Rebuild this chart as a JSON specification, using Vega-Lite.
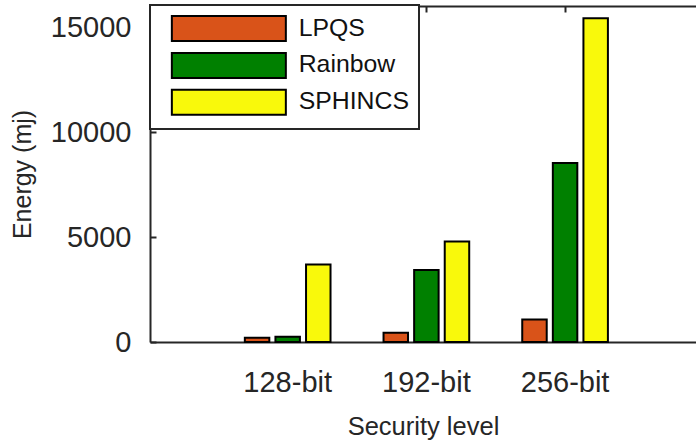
{
  "$schema": "https://vega.github.io/schema/vega-lite/v6.json",
  "width": 546,
  "height": 336,
  "autosize": "none",
  "padding": {"left": 150, "top": 6, "right": 0, "bottom": 99},
  "background": "white",
  "data": {
    "values": [
      {"level": "128-bit", "scheme": "LPQS", "energy": 200},
      {"level": "128-bit", "scheme": "Rainbow", "energy": 250},
      {"level": "128-bit", "scheme": "SPHINCS", "energy": 3690},
      {"level": "192-bit", "scheme": "LPQS", "energy": 440},
      {"level": "192-bit", "scheme": "Rainbow", "energy": 3430},
      {"level": "192-bit", "scheme": "SPHINCS", "energy": 4790},
      {"level": "256-bit", "scheme": "LPQS", "energy": 1070},
      {"level": "256-bit", "scheme": "Rainbow", "energy": 8520},
      {"level": "256-bit", "scheme": "SPHINCS", "energy": 15420}
    ]
  },
  "layer": [
    {
      "mark": {"type": "bar", "stroke": "#000000", "strokeWidth": 2},
      "encoding": {
        "x": {
          "field": "level",
          "type": "nominal",
          "sort": ["128-bit", "192-bit", "256-bit"],
          "scale": {"paddingInner": 0, "paddingOuter": 0.4683, "align": 0.526},
          "title": "Security level",
          "axis": {
            "orient": "bottom",
            "labelAngle": 0,
            "tickSize": -6,
            "labelPadding": 32,
            "labelFontSize": 29,
            "titleFontSize": 25.5,
            "titlePadding": 17
          }
        },
        "xOffset": {
          "field": "scheme",
          "sort": ["LPQS", "Rainbow", "SPHINCS"],
          "scale": {"paddingInner": 0.2, "paddingOuter": 0.8665}
        },
        "y": {
          "field": "energy",
          "type": "quantitative",
          "title": "Energy (mj)",
          "scale": {"domain": [0, 16000], "nice": false},
          "axis": {
            "values": [0, 5000, 10000, 15000],
            "format": "d",
            "tickSize": -6,
            "labelPadding": 25,
            "labelFontSize": 29,
            "titleFontSize": 25,
            "titlePadding": 15
          }
        },
        "color": {
          "field": "scheme",
          "type": "nominal",
          "scale": {
            "domain": ["LPQS", "Rainbow", "SPHINCS"],
            "range": ["#D95319", "#008000", "#F9F90B"]
          },
          "legend": {
            "orient": "none",
            "legendX": 0,
            "legendY": -1,
            "title": null,
            "direction": "vertical",
            "fillColor": "#ffffff",
            "strokeColor": "#262626",
            "padding": 10,
            "symbolType": "M-4.56,-1L4.56,-1L4.56,1L-4.56,1Z",
            "symbolSize": 625,
            "symbolStrokeColor": "#000000",
            "symbolStrokeWidth": 2,
            "symbolOpacity": 1,
            "symbolOffset": 55.35,
            "labelFontSize": 24.8,
            "labelColor": "#111111",
            "labelOffset": 56.35,
            "rowPadding": 3.9,
            "zindex": 2
          }
        }
      }
    },
    {
      "mark": {"type": "bar", "opacity": 0},
      "encoding": {
        "x": {
          "field": "level",
          "type": "nominal",
          "sort": ["128-bit", "192-bit", "256-bit"],
          "axis": {"orient": "top", "labels": false, "title": null, "tickSize": -6}
        }
      }
    }
  ],
  "resolve": {"axis": {"x": "independent"}},
  "config": {
    "font": "Liberation Sans",
    "view": {"stroke": null},
    "axis": {
      "grid": false,
      "domainColor": "#262626",
      "domainWidth": 2,
      "tickColor": "#262626",
      "tickWidth": 2,
      "labelColor": "#262626",
      "titleColor": "#262626",
      "titleFontWeight": "normal",
      "labelFont": "Liberation Sans",
      "titleFont": "Liberation Sans",
      "zindex": 1
    },
    "legend": {"strokeWidth": 2, "labelFont": "Liberation Sans"}
  }
}
